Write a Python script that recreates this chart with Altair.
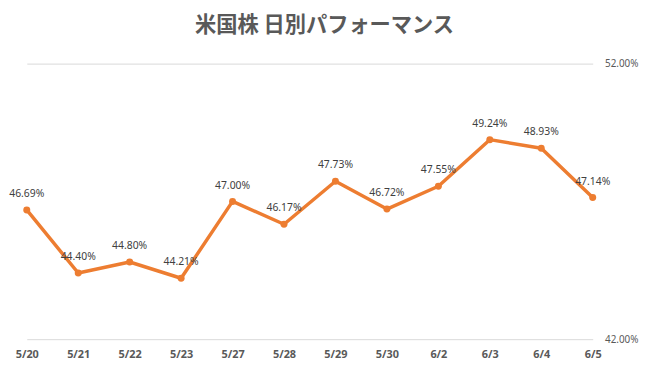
import altair as alt
import pandas as pd

dates = ["5/20", "5/21", "5/22", "5/23", "5/27", "5/28", "5/29", "5/30", "6/2", "6/3", "6/4", "6/5"]
values = [46.69, 44.40, 44.80, 44.21, 47.00, 46.17, 47.73, 46.72, 47.55, 49.24, 48.93, 47.14]
y_ticks = [0.42, 0.52]

df = pd.DataFrame({"date": dates, "value": [v / 100 for v in values]})

x = alt.X("date:N", sort=dates, title=None,
          scale=alt.Scale(type="point", padding=0),
          axis=alt.Axis(labelAngle=0, ticks=False, domain=False, grid=False,
                        labelFont="Noto Sans", labelFontSize=11, labelFontWeight="bold",
                        labelColor="#595959", labelPadding=10))
y = alt.Y("value:Q", title=None,
          scale=alt.Scale(domain=[0.42, 0.52], nice=False, zero=False),
          axis=alt.Axis(orient="right", values=y_ticks, format=".2%", ticks=False,
                        domain=False, grid=True, gridColor="#d9d9d9", gridWidth=1,
                        labelFont="Noto Sans", labelFontSize=10, labelColor="#595959",
                        labelPadding=12, labelAlign="left", labelBaseline="middle"))

base = alt.Chart(df).encode(x=x, y=y)
line = base.mark_line(color="#ED7D31", strokeWidth=3.5, strokeCap="round", strokeJoin="round")
pts = base.mark_circle(color="#ED7D31", size=50, opacity=1)
labels = base.mark_text(dy=-16, font="Noto Sans", fontSize=10.5, color="#404040",
                        baseline="middle", align="center").encode(
    text=alt.Text("value:Q", format=".2%"))

chart = alt.layer(line, pts, labels).properties(
    width=573, height=279,
    padding={"left": 19, "top": 54, "right": 57, "bottom": 35},
    autosize=alt.AutoSizeParams(type="none"),
    title=alt.TitleParams("米国株 日別パフォーマンス", font="Noto Sans CJK JP", fontSize=21.5,
                          fontWeight="bold", color="#595959", anchor="middle",
                          offset=22, dx=15),
).configure(background="white").configure_view(strokeWidth=0, stroke="transparent")

chart.save("out.html", embed_options={"renderer": "svg", "actions": False})
